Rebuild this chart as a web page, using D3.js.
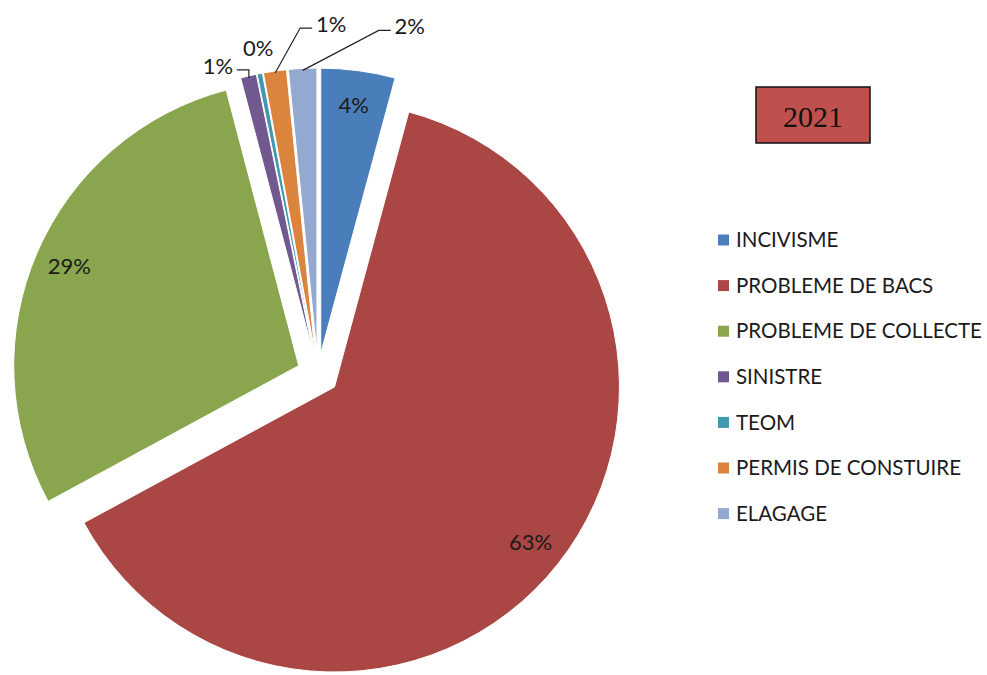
<!DOCTYPE html>
<html>
<head>
<meta charset="utf-8">
<script src="https://cdn.jsdelivr.net/npm/d3@7"></script>
<style>
  body { margin: 0; background: #fff; }
  svg { display: block; }
  .lbl { font-family: Lato, "Open Sans", sans-serif; font-size: 22px; fill: #1a1a1a; }
  .legend text { font-family: Lato, "Open Sans", sans-serif; font-size: 20.5px; fill: #1a1a1a; }
</style>
</head>
<body>
<svg id="chart" width="987" height="675"></svg>
<script>
// data
const categories = ["INCIVISME", "PROBLEME DE BACS", "PROBLEME DE COLLECTE", "SINISTRE", "TEOM", "PERMIS DE CONSTUIRE", "ELAGAGE"]
const values = [4.2, 62.9, 28.8, 0.9, 0.3, 1.3, 1.6]
const colors = ["#4A7EBB", "#AA4643", "#89A54E", "#71588F", "#4198AF", "#DB843D", "#93A9CF"]
const yearLabel = "2021"

const config = {
    cx: 318, cy: 374, r: 285, explode: 21,
    labelR: 250,
    // hand placed outside labels, offset from the slice's outer point
    outside: { 3: [-31, -12], 4: [-2, -27], 5: [56, -49], 6: [107, -44] },
    noLeader: [4],
    legend: { x: 718, y: 240, step: 45.6, box: 11 }
}

const svg = d3.select("#chart")

const pie = d3.pie().sort(null).value(d => d.value)
const arcs = pie(categories.map((c, i) => ({ name: c, value: values[i], color: colors[i], i })))

const arc = d3.arc().innerRadius(0).outerRadius(config.r)
const labelArc = d3.arc().innerRadius(config.labelR).outerRadius(config.labelR)

const fmt = v => Math.round(v) + "%"
const mid = d => (d.startAngle + d.endAngle) / 2
const shift = d => [Math.sin(mid(d)) * config.explode, -Math.cos(mid(d)) * config.explode]

const pieG = svg.append("g")
    .attr("transform", "translate(" + config.cx + "," + config.cy + ")")

pieG.selectAll("path.slice")
    .data(arcs)
    .join("path")
    .classed("slice", true)
    .attr("transform", d => "translate(" + shift(d) + ")")
    .attr("d", arc)
    .attr("fill", d => d.data.color)
    .attr("stroke", "#fff")
    .attr("stroke-width", 1)

// labels inside the big slices
pieG.selectAll("text.inside")
    .data(arcs.filter(d => !(d.index in config.outside)))
    .join("text")
    .classed("inside lbl", true)
    .attr("transform", d => {
        const [x, y] = labelArc.centroid(d)
        const [dx, dy] = shift(d)
        return "translate(" + (x + dx) + "," + (y + dy) + ")"
    })
    .attr("text-anchor", "middle")
    .attr("dy", "0.35em")
    .text(d => fmt(d.data.value))

// labels outside the small slices, with leader lines
const outer = arcs.filter(d => d.index in config.outside).map(d => {
    const a = mid(d)
    const rr = config.r + config.explode - 2
    const px = Math.sin(a) * rr, py = -Math.cos(a) * rr
    const [nx, ny] = config.outside[d.index]
    return { d, px, py, lx: px + nx, ly: py + ny }
})

const g2 = pieG.append("g")

g2.selectAll("text")
    .data(outer)
    .join("text")
    .classed("lbl", true)
    .attr("x", o => o.lx)
    .attr("y", o => o.ly)
    .attr("text-anchor", "middle")
    .attr("dy", "0.35em")
    .text(o => fmt(o.d.data.value))

g2.selectAll("path")
    .data(outer.filter(o => !config.noLeader.includes(o.d.index)))
    .join("path")
    .attr("fill", "none")
    .attr("stroke", "#222")
    .attr("stroke-width", 1.2)
    .attr("d", o => {
        const right = o.lx > o.px
        const edge = o.lx + (right ? -19 : 19)
        const ey = o.ly + 4
        const elbow = edge + (right ? -12 : 12)
        return "M" + o.px + "," + o.py + "L" + elbow + "," + ey + "L" + edge + "," + ey
    })

// legend
const lg = config.legend
const legend = svg.append("g").classed("legend", true)
    .attr("transform", "translate(" + lg.x + "," + lg.y + ")")

const rows = legend.selectAll("g")
    .data(arcs)
    .join("g")
    .attr("transform", (d, i) => "translate(0," + i * lg.step + ")")

rows.append("rect")
    .attr("x", 0).attr("y", -lg.box / 2)
    .attr("width", lg.box).attr("height", lg.box)
    .attr("fill", d => d.data.color)

rows.append("text")
    .attr("x", 18)
    .attr("dy", "0.35em")
    .text(d => d.data.name)

// year box
const yb = svg.append("g").attr("transform", "translate(756,87)")
yb.append("rect")
    .attr("width", 114).attr("height", 56)
    .attr("fill", "#C0504D")
    .attr("stroke", "#111").attr("stroke-width", 1.5)
yb.append("text")
    .attr("x", 57).attr("y", 29)
    .attr("text-anchor", "middle")
    .attr("dy", "0.35em")
    .style("font-family", "'Liberation Serif', 'DejaVu Serif', serif")
    .style("font-size", "30px")
    .attr("fill", "#111")
    .text(yearLabel)
</script>
</body>
</html>
